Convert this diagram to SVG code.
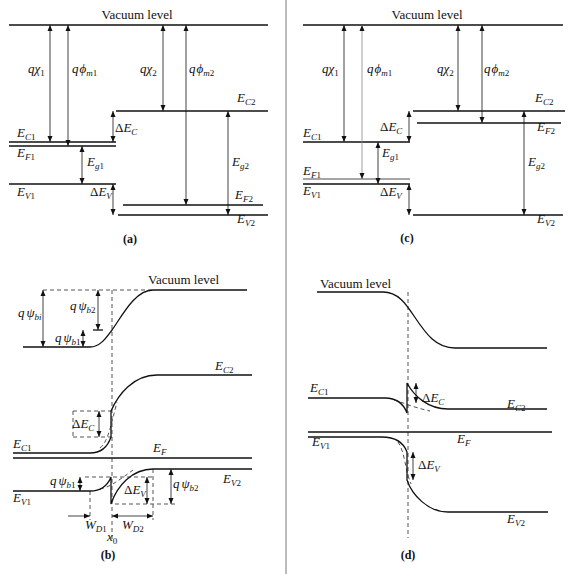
<svg xmlns="http://www.w3.org/2000/svg" width="573" height="574" viewBox="0 0 573 574">
<style>
text{font-family:"Liberation Serif","Times New Roman",serif;font-size:13px;fill:#111}
.i{font-style:italic}
.s{font-size:9px}
.n{font-style:normal}
.lv{stroke:#111;stroke-width:1.3;fill:none}
.ar{stroke:#111;stroke-width:0.8;fill:none;marker-start:url(#ah);marker-end:url(#ah)}
.ae{stroke:#111;stroke-width:0.8;fill:none;marker-end:url(#ah)}
.gr{stroke:#888}
.d{stroke:#555;stroke-width:1;fill:none;stroke-dasharray:4,3}
.cap{font-weight:bold;font-size:12px}
</style>
<defs>
<marker id="ah" viewBox="0 0 6 6" refX="6" refY="3" markerWidth="6" markerHeight="6" markerUnits="userSpaceOnUse" orient="auto-start-reverse">
<path d="M0,0.5 L6,3 L0,5.5 z" fill="#111"/>
</marker>
</defs>
<rect width="573" height="574" fill="#fff"/>
<line x1="286" y1="0" x2="286" y2="574" stroke="#777" stroke-width="1"/>

<!-- Panel (a) -->
<g id="panel-a">
<g id="a-levels">
<line class="lv" x1="9" y1="25" x2="268" y2="25"/>
<line class="lv" x1="9" y1="142" x2="116" y2="142"/>
<line class="lv" x1="9" y1="146" x2="116" y2="146"/>
<line class="lv" x1="9" y1="184" x2="116" y2="184"/>
<line class="lv" x1="116" y1="111" x2="268" y2="111"/>
<line class="lv" x1="123" y1="205" x2="263" y2="205"/>
<line class="lv" x1="118" y1="215" x2="268" y2="215"/>
</g>
<g id="a-arrows">
<line class="ar" x1="50" y1="25" x2="50" y2="142"/>
<line class="ar" x1="68" y1="25" x2="68" y2="146"/>
<line class="ar" x1="82" y1="146" x2="82" y2="184"/>
<line class="ar" x1="113" y1="111" x2="113" y2="142"/>
<line class="ar" x1="113" y1="184" x2="113" y2="215"/>
<line class="ar" x1="163" y1="25" x2="163" y2="111"/>
<line class="ar" x1="186" y1="25" x2="186" y2="205"/>
<line class="ar" x1="228" y1="111" x2="228" y2="215"/>
</g>
<g id="a-labels">
<text x="137" y="19" text-anchor="middle">Vacuum level</text>
<text x="28" y="73" class="i">qχ<tspan class="s n" dy="3">1</tspan></text>
<text x="72" y="73" class="i">q<tspan dx="1">ϕ</tspan><tspan class="s" dy="3">m</tspan><tspan class="s n">1</tspan></text>
<text x="140" y="73" class="i">qχ<tspan class="s n" dy="3">2</tspan></text>
<text x="189" y="73" class="i">q<tspan dx="1">ϕ</tspan><tspan class="s" dy="3">m</tspan><tspan class="s n">2</tspan></text>
<text x="17" y="137" class="i">E<tspan class="s" dy="3">C</tspan><tspan class="s n">1</tspan></text>
<text x="17" y="157" class="i">E<tspan class="s" dy="3">F</tspan><tspan class="s n">1</tspan></text>
<text x="17" y="196" class="i">E<tspan class="s" dy="3">V</tspan><tspan class="s n">1</tspan></text>
<text x="115" y="132">Δ<tspan class="i">E</tspan><tspan class="s i" dy="3">C</tspan></text>
<text x="90" y="196">Δ<tspan class="i">E</tspan><tspan class="s i" dy="3">V</tspan></text>
<text x="87" y="166" class="i">E<tspan class="s" dy="3">g</tspan><tspan class="s n">1</tspan></text>
<text x="232" y="166" class="i">E<tspan class="s" dy="3">g</tspan><tspan class="s n">2</tspan></text>
<text x="237" y="102" class="i">E<tspan class="s" dy="3">C</tspan><tspan class="s n">2</tspan></text>
<text x="235" y="199" class="i">E<tspan class="s" dy="3">F</tspan><tspan class="s n">2</tspan></text>
<text x="237" y="223" class="i">E<tspan class="s" dy="3">V</tspan><tspan class="s n">2</tspan></text>
<text x="130" y="243" class="cap" text-anchor="middle">(a)</text>
</g>
</g>

<!-- Panel (c) -->
<g id="panel-c">
<g id="c-levels">
<line class="lv" x1="303" y1="25" x2="563" y2="25"/>
<line class="lv" x1="303" y1="142" x2="410" y2="142"/>
<line class="lv gr" x1="303" y1="179" x2="410" y2="179"/>
<line class="lv" x1="303" y1="184" x2="410" y2="184"/>
<line class="lv" x1="413" y1="111" x2="565" y2="111"/>
<line class="lv" x1="417" y1="123" x2="561" y2="123"/>
<line class="lv" x1="413" y1="215" x2="563" y2="215"/>
</g>
<g id="c-arrows">
<line class="ar" x1="344" y1="25" x2="344" y2="142"/>
<line class="ar gr" x1="362" y1="25" x2="362" y2="179"/>
<line class="ar" x1="378" y1="142" x2="378" y2="184"/>
<line class="ar" x1="409" y1="111" x2="409" y2="142"/>
<line class="ar" x1="409" y1="184" x2="409" y2="215"/>
<line class="ar" x1="458" y1="25" x2="458" y2="111"/>
<line class="ar" x1="482" y1="25" x2="482" y2="123"/>
<line class="ar" x1="524" y1="111" x2="524" y2="215"/>
</g>
<g id="c-labels">
<text x="427" y="19" text-anchor="middle">Vacuum level</text>
<text x="322" y="73" class="i">qχ<tspan class="s n" dy="3">1</tspan></text>
<text x="367" y="73" class="i">q<tspan dx="1">ϕ</tspan><tspan class="s" dy="3">m</tspan><tspan class="s n">1</tspan></text>
<text x="437" y="73" class="i">qχ<tspan class="s n" dy="3">2</tspan></text>
<text x="484" y="73" class="i">q<tspan dx="1">ϕ</tspan><tspan class="s" dy="3">m</tspan><tspan class="s n">2</tspan></text>
<text x="303" y="137" class="i">E<tspan class="s" dy="3">C</tspan><tspan class="s n">1</tspan></text>
<text x="303" y="175" class="i">E<tspan class="s" dy="3">F</tspan><tspan class="s n">1</tspan></text>
<text x="303" y="195" class="i">E<tspan class="s" dy="3">V</tspan><tspan class="s n">1</tspan></text>
<text x="380" y="131">Δ<tspan class="i">E</tspan><tspan class="s i" dy="3">C</tspan></text>
<text x="380" y="196">Δ<tspan class="i">E</tspan><tspan class="s i" dy="3">V</tspan></text>
<text x="382" y="157" class="i">E<tspan class="s" dy="3">g</tspan><tspan class="s n">1</tspan></text>
<text x="528" y="166" class="i">E<tspan class="s" dy="3">g</tspan><tspan class="s n">2</tspan></text>
<text x="535" y="102" class="i">E<tspan class="s" dy="3">C</tspan><tspan class="s n">2</tspan></text>
<text x="537" y="131" class="i">E<tspan class="s" dy="3">F</tspan><tspan class="s n">2</tspan></text>
<text x="537" y="223" class="i">E<tspan class="s" dy="3">V</tspan><tspan class="s n">2</tspan></text>
<text x="407" y="242" class="cap" text-anchor="middle">(c)</text>
</g>
</g>

<!-- Panel (b) -->
<g id="panel-b">
<g id="b-dashed">
<line class="d" x1="43" y1="290" x2="153" y2="290"/>
<line class="d" x1="112" y1="290" x2="112" y2="540"/>
<line class="d" x1="73" y1="411" x2="112" y2="411"/>
<line class="d" x1="73" y1="437" x2="112" y2="437"/>
<line class="d" x1="73" y1="411" x2="73" y2="437"/>
<line class="d" x1="85" y1="477" x2="153" y2="477"/>
<line class="d" x1="115" y1="504" x2="177" y2="504"/>
<line class="d" x1="153" y1="469" x2="153" y2="520"/>
<line class="d" x1="90" y1="491" x2="90" y2="520"/>
<path class="d" d="M100,448 C108,442 111,425 117,402"/>
<path class="d" d="M100,489 C110,487 118,481 133,470"/>
</g>
<g id="b-levels">
<path class="lv" d="M23,347 L90,347 C100,347 106,338 112,330 C122,316 135,290 153,290 L247,290"/>
<path class="lv" d="M13,453 L90,453 C100,453 107,449 111,437 L111,411 C118,395 133,375 157,375 L252,375"/>
<line class="lv" x1="13" y1="458" x2="252" y2="458"/>
<path class="lv" d="M13,491 L90,491 C100,491 107,487 111,477 L111,504 C117,486 132,469 153,469 L252,469"/>
</g>
<g id="b-arrows">
<line class="ar" x1="43" y1="290" x2="43" y2="347"/>
<line class="ar" x1="98" y1="290" x2="98" y2="330"/>
<line class="lv" x1="93" y1="330" x2="103" y2="330" stroke-width="1"/>
<line class="ar" x1="83" y1="330" x2="83" y2="347"/>
<line class="ar" x1="99" y1="411" x2="99" y2="437"/>
<line class="ar" x1="80" y1="477" x2="80" y2="491"/>
<line class="ar" x1="147" y1="477" x2="147" y2="504"/>
<line class="ar" x1="171" y1="469" x2="171" y2="504"/>
<line class="ae" x1="68" y1="516" x2="90" y2="516"/>
<line class="ar" x1="112" y1="516" x2="153" y2="516"/>
</g>
<g id="b-labels">
<text x="148" y="284">Vacuum level</text>
<text x="18" y="317" class="i">q<tspan dx="2">ψ</tspan><tspan class="s" dy="3">bi</tspan></text>
<text x="70" y="310" class="i">q<tspan dx="2">ψ</tspan><tspan class="s" dy="3">b</tspan><tspan class="s n">2</tspan></text>
<text x="55" y="342" class="i">q<tspan dx="2">ψ</tspan><tspan class="s" dy="3">b</tspan><tspan class="s n">1</tspan></text>
<text x="215" y="370" class="i">E<tspan class="s" dy="3">C</tspan><tspan class="s n">2</tspan></text>
<text x="72" y="428">Δ<tspan class="i">E</tspan><tspan class="s i" dy="3">C</tspan></text>
<text x="13" y="448" class="i">E<tspan class="s" dy="3">C</tspan><tspan class="s n">1</tspan></text>
<text x="153" y="452" class="i">E<tspan class="s" dy="3">F</tspan></text>
<text x="223" y="483" class="i">E<tspan class="s" dy="3">V</tspan><tspan class="s n">2</tspan></text>
<text x="50" y="485" class="i">q<tspan dx="2">ψ</tspan><tspan class="s" dy="3">b</tspan><tspan class="s n">1</tspan></text>
<text x="124" y="494">Δ<tspan class="i">E</tspan><tspan class="s i" dy="3">V</tspan></text>
<text x="173" y="488" class="i">q<tspan dx="2">ψ</tspan><tspan class="s" dy="3">b</tspan><tspan class="s n">2</tspan></text>
<text x="13" y="502" class="i">E<tspan class="s" dy="3">V</tspan><tspan class="s n">1</tspan></text>
<text x="85" y="529" class="i">W<tspan class="s" dy="3">D</tspan><tspan class="s n">1</tspan></text>
<text x="122" y="529" class="i">W<tspan class="s" dy="3">D</tspan><tspan class="s n">2</tspan></text>
<text x="107" y="541" class="i">x<tspan class="s n" dy="3">0</tspan></text>
<text x="108" y="559" class="cap" text-anchor="middle">(b)</text>
</g>
</g>

<!-- Panel (d) -->
<g id="panel-d">
<g id="d-dashed">
<line class="d" x1="408" y1="292" x2="408" y2="538"/>
<path class="d" d="M394,400 C404,403 412,407 430,411"/>
<path class="d" d="M398,442 C405,452 405,470 411,484"/>
</g>
<g id="d-levels">
<path class="lv" d="M317,292 L383,292 C398,292 406,304 414,316 C426,334 436,348 455,348 L547,348"/>
<path class="lv" d="M308,398 L385,398 C398,398 404,405 407,413 L407,383 C414,396 428,409 448,409 L547,409"/>
<line class="lv" x1="308" y1="432" x2="552" y2="432"/>
<path class="lv" d="M308,437 L382,437 C397,437 404,444 407,452 L407,480 C412,495 428,512 448,512 L548,512"/>
</g>
<g id="d-arrows">
<line class="ar" x1="416" y1="383" x2="416" y2="403"/>
<line class="ar" x1="413" y1="452" x2="413" y2="480"/>
</g>
<g id="d-labels">
<text x="320" y="288">Vacuum level</text>
<text x="310" y="392" class="i">E<tspan class="s" dy="3">C</tspan><tspan class="s n">1</tspan></text>
<text x="422" y="402">Δ<tspan class="i">E</tspan><tspan class="s i" dy="3">C</tspan></text>
<text x="507" y="408" class="i">E<tspan class="s" dy="3">C</tspan><tspan class="s n">2</tspan></text>
<text x="457" y="443" class="i">E<tspan class="s" dy="3">F</tspan></text>
<text x="312" y="446" class="i">E<tspan class="s" dy="3">V</tspan><tspan class="s n">1</tspan></text>
<text x="418" y="469">Δ<tspan class="i">E</tspan><tspan class="s i" dy="3">V</tspan></text>
<text x="507" y="523" class="i">E<tspan class="s" dy="3">V</tspan><tspan class="s n">2</tspan></text>
<text x="408" y="559" class="cap" text-anchor="middle">(d)</text>
</g>
</g>
</svg>
